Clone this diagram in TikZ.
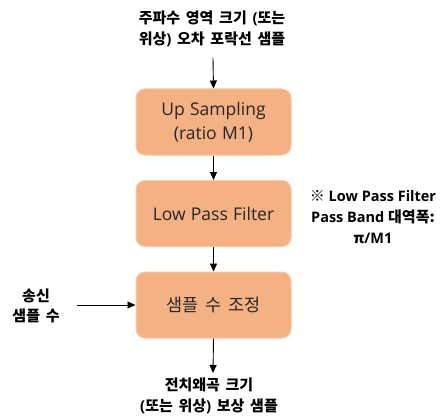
\documentclass[tikz,border=0pt]{standalone}
\usepackage{fontspec}
\setmainfont{Open Sans}
\newfontfamily\kr{Noto Sans CJK KR}
\usetikzlibrary{arrows.meta}
\definecolor{boxfill}{HTML}{F4B183}
\definecolor{boxedge}{HTML}{F8C9A6}
\newcommand\widesp{\spaceskip=0.38em\relax}
\newcommand\midsp{\spaceskip=0.3em\relax}
\tikzset{
  x=1pt,y=-1pt,
  procbox/.style={draw=boxedge, line width=1pt, fill=boxfill, rounded corners=9pt,
    minimum width=155pt, minimum height=66pt, inner sep=0pt, align=center,
    font=\fontsize{17.5}{24}\selectfont\midsp, text=black!85},
  lbl/.style={align=center, font=\bfseries\fontsize{15}{21.5}\selectfont\widesp, inner sep=0pt},
  arr/.style={-{Triangle[length=8pt,width=7pt]}, line width=0.9pt}
}
\begin{document}
\begin{tikzpicture}
\useasboundingbox (0,0) rectangle (445,420);
\node[lbl] (top) at (212,29) {{\kr 주파수 영역 크기} ({\kr 또는}\\{\kr 위상}) {\kr 오차 포락선 샘플}};
\node[procbox] (up) at (213.5,122) {Up Sampling\\(ratio M1)};
\node[procbox] (lpf) at (213.5,213.5) {Low Pass Filter};
\node[procbox, font=\kr\fontsize{17.5}{21}\selectfont\widesp] (adj) at (213.5,305) {샘플 수 조정};
\node[lbl] (bot) at (209,396) {{\kr 전치왜곡 크기}\\({\kr 또는 위상}) {\kr 보상 샘플}};
\node[lbl, font=\bfseries\kr\fontsize{15}{20}\selectfont\widesp] (src) at (36,306) {송신\\샘플 수};
\node[lbl, font=\bfseries\fontsize{14.5}{21}\selectfont] (note) at (373,217) {{\kr\fontsize{15}{21}\selectfont ※} Low Pass Filter\\Pass Band {\kr\fontsize{15}{21}\selectfont 대역폭:}\\{\kr π}/M1};
\coordinate (srcend) at (77,305);
\draw[arr] (213,58) -- (up.north);
\draw[arr] (up) -- (lpf);
\draw[arr] (lpf) -- (adj);
\draw[arr] (adj.south) -- (213,373);
\draw[arr] (srcend) -- (adj.west);
\end{tikzpicture}
\end{document}
